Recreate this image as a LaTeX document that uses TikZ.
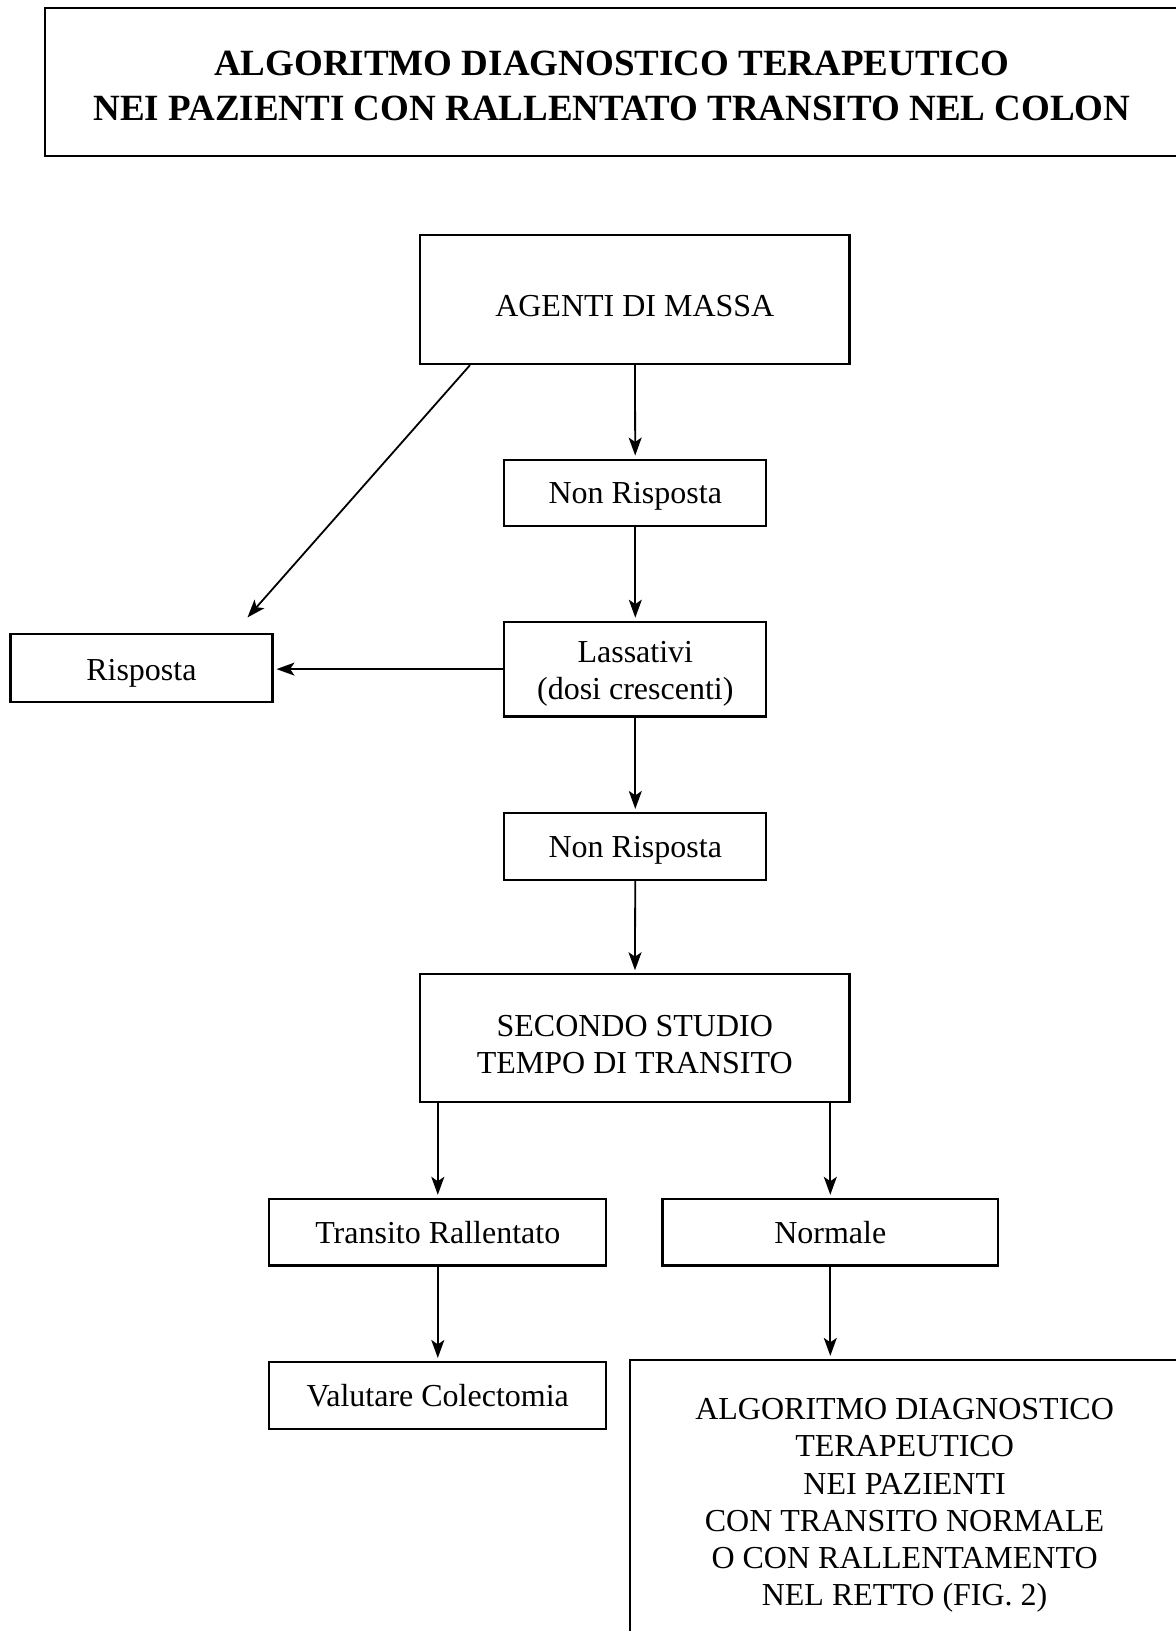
\documentclass[tikz,border=0pt]{standalone}
\usepackage{fontspec}
\setmainfont{Liberation Serif}
\usetikzlibrary{arrows.meta,calc}
\newcommand{\bodyfont}{\fontsize{16}{18.6}\selectfont}
\newcommand{\titlefont}{\fontsize{18.5}{22.4}\selectfont\bfseries}
% lower the (tabular) content by #1 while keeping its natural box size
\newcommand{\tb}[2]{\raisebox{-#1}[\height][\depth]{\begin{tabular}{@{}c@{}}#2\end{tabular}}}
\tikzset{
  box/.style={draw, line width=1.1pt, inner sep=0pt, font=\bodyfont},
  arr/.style={line width=0.9pt, -{Stealth[length=9pt,width=6.5pt,inset=2.2pt]}, shorten >=1.5pt}
}
\begin{document}
\begin{tikzpicture}[x=0.5pt,y=-0.5pt]
\useasboundingbox (0,0) rectangle (1176,1631);
\clip (0,0) rectangle (1176,1631);
\node[box, font=\titlefont, minimum width=567pt, minimum height=73.85pt] (title) at (612,82.2)
  {\tb{3.6pt}{ALGORITMO DIAGNOSTICO TERAPEUTICO\\NEI PAZIENTI CON RALLENTATO TRANSITO NEL COLON}};
\node[box, minimum width=214.75pt, minimum height=64.5pt] (agenti) at (634.8,299.6) {\tb{4.5pt}{AGENTI DI MASSA}};
\node[box, minimum width=131pt, minimum height=33.25pt] (nr1) at (635.3,492.9) {\tb{1.7pt}{Non Risposta}};
\node[box, minimum width=131pt, minimum height=47.3pt] (lass) at (635.3,669.1) {\tb{2.1pt}{Lassativi\\(dosi crescenti)}};
\node[box, minimum width=131pt, minimum height=33.8pt] (risposta) at (141.4,668.1) {\tb{2.4pt}{Risposta}};
\node[box, minimum width=131pt, minimum height=33.35pt] (nr2) at (635.3,846.4) {\tb{1.7pt}{Non Risposta}};
\node[box, minimum width=214.75pt, minimum height=63.95pt] (secondo) at (634.8,1038.3) {\tb{4.5pt}{SECONDO STUDIO\\TEMPO DI TRANSITO}};
\node[box, minimum width=168.45pt, minimum height=33.3pt] (transito) at (437.8,1232.2) {\tb{2.1pt}{Transito Rallentato}};
\node[box, minimum width=167.9pt, minimum height=33.3pt] (normale) at (830.3,1232.2) {\tb{2.1pt}{Normale}};
\node[box, minimum width=168.45pt, minimum height=33.35pt] (valutare) at (437.8,1395.4) {\tb{1.8pt}{Valutare Colectomia}};
\node[box, minimum width=274.5pt, minimum height=140.5pt] (bottom) at (904.6,1500.5)
  {\tb{2.4pt}{ALGORITMO DIAGNOSTICO\\TERAPEUTICO\\NEI PAZIENTI\\CON TRANSITO NORMALE\\O CON RALLENTAMENTO\\NEL RETTO (FIG. 2)}};
\coordinate (diagend) at ($(risposta.north east)+(-28,-13.5)$);
\draw[arr] (agenti) -- (nr1);
\draw[arr] ($(agenti.south west)+(51,0)$) -- (diagend);
\draw[arr] (nr1) -- (lass);
\draw[arr] (lass.west) -- (lass.west -| risposta.east);
\draw[arr] (lass) -- (nr2);
\draw[arr] (nr2) -- (secondo);
\draw[arr] (secondo.south -| transito) -- (transito.north);
\draw[arr] (secondo.south -| normale) -- (normale.north);
\draw[arr] (transito) -- (valutare);
\draw[arr] (normale.south) -- (normale.south |- bottom.north);
\end{tikzpicture}
\end{document}
